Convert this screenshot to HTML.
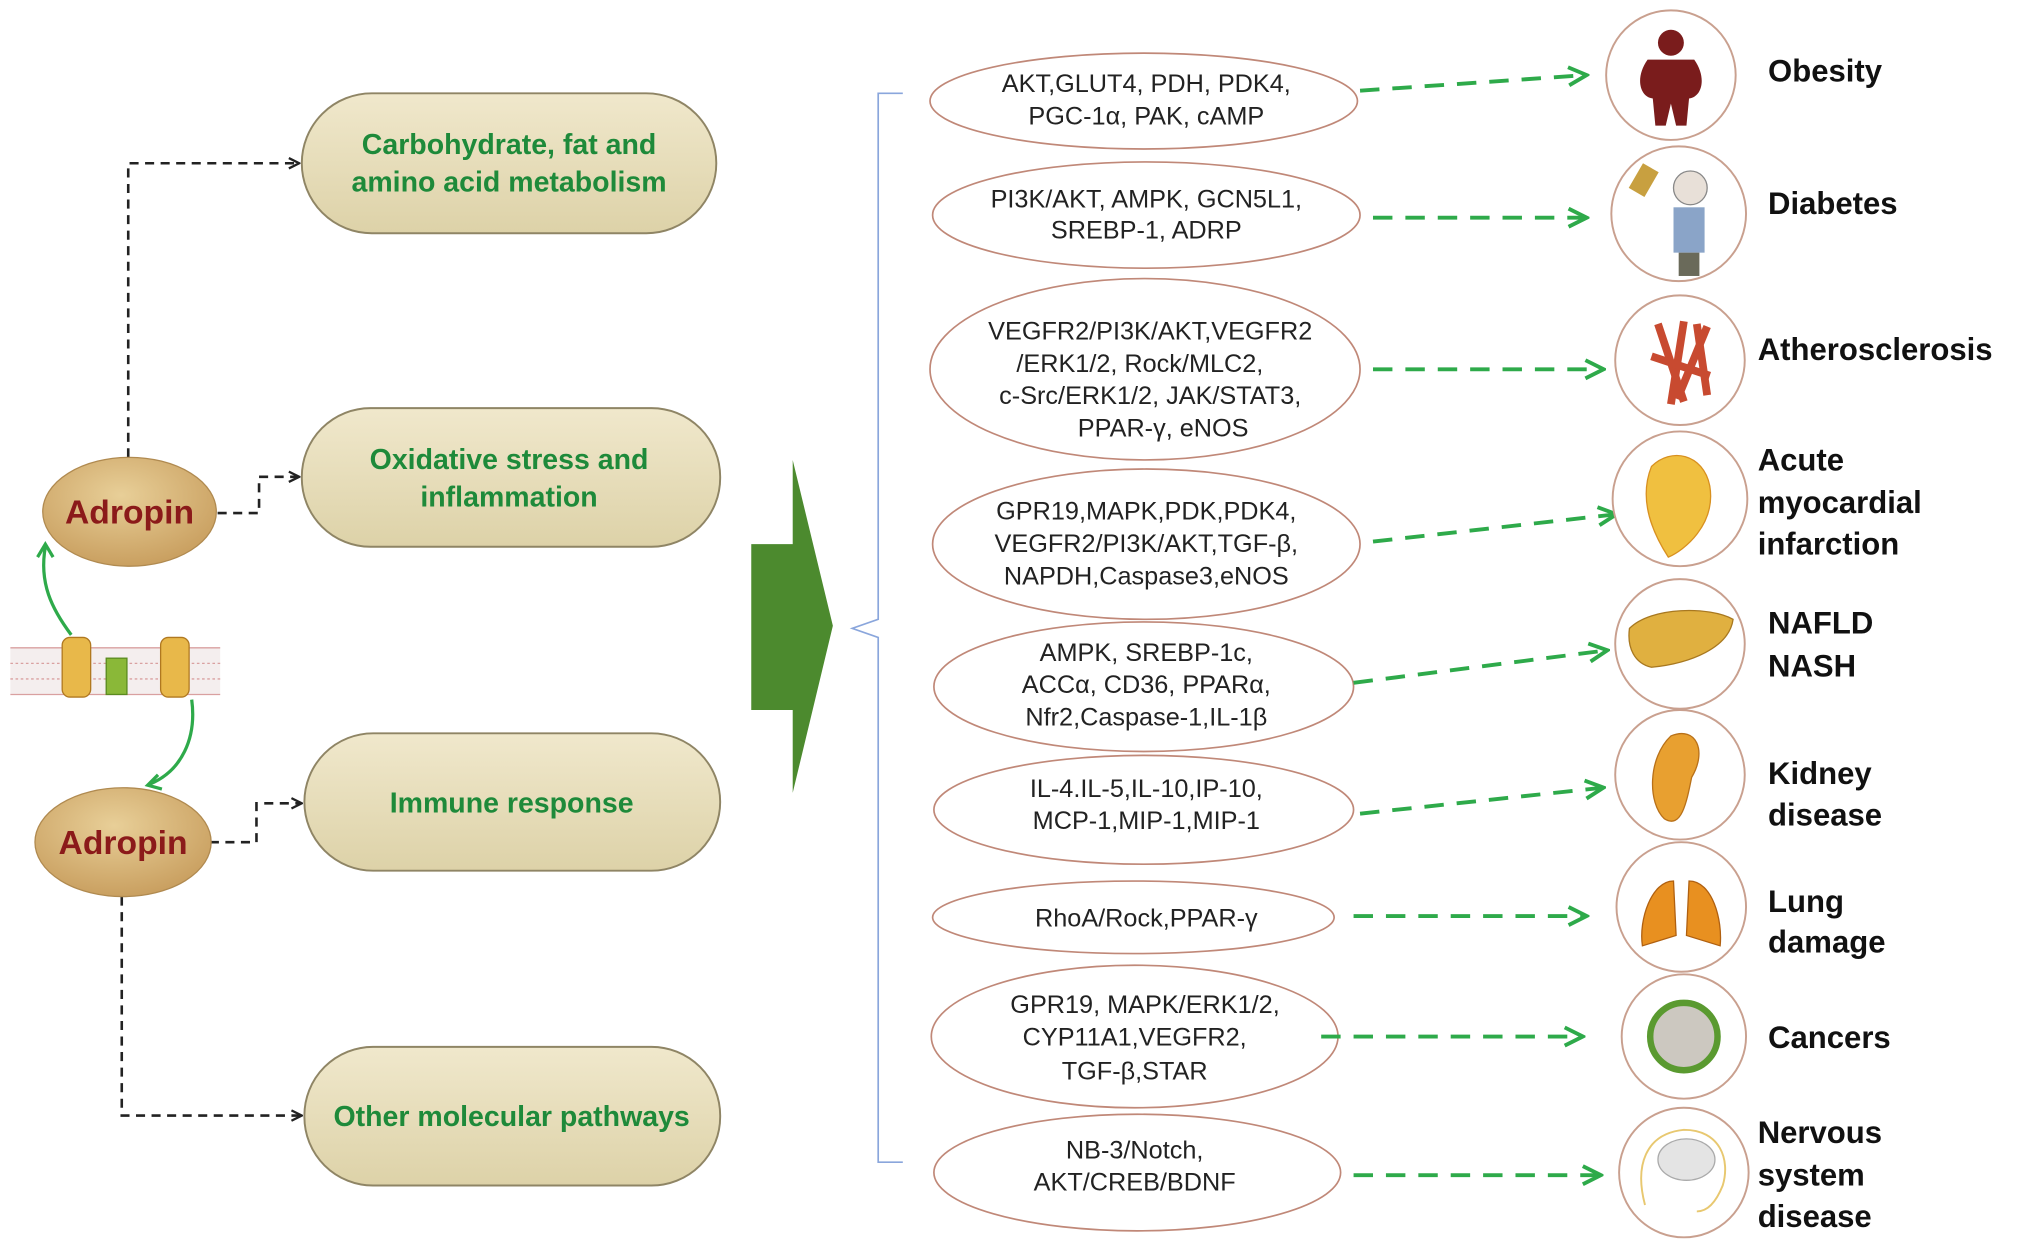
<!DOCTYPE html>
<html><head><meta charset="utf-8"><style>
html,body{margin:0;padding:0;background:#fff;width:2031px;height:1249px;overflow:hidden}
svg{display:block}
.p{font-family:"Liberation Sans",Arial,sans-serif;font-weight:bold;fill:#1e8a3a;font-size:22px;text-anchor:middle}
.a{font-family:"Liberation Sans",Arial,sans-serif;font-weight:bold;fill:#8b1a1a;font-size:26px;text-anchor:middle}
.e{font-family:"Liberation Sans",Arial,sans-serif;fill:#222;font-size:19.5px;text-anchor:middle}
.d{font-family:"Liberation Sans",Arial,sans-serif;font-weight:bold;fill:#111;font-size:24px}
.gd{stroke:#2eaa4a;stroke-width:3;stroke-dasharray:15 10;fill:none}
.kd{stroke:#222;stroke-width:2;stroke-dasharray:7 5;fill:none}
.c{fill:#fff;stroke:#c9a08f;stroke-width:1.5}
.o{fill:#fff;stroke:#c08878;stroke-width:1.3}
</style></head><body>
<svg width="2031" height="1249" viewBox="0 0 1568 964" preserveAspectRatio="none">
<defs>
<linearGradient id="pg" x1="0" y1="0" x2="0" y2="1"><stop offset="0" stop-color="#f0e8cc"/><stop offset="1" stop-color="#ddd2a8"/></linearGradient>
<radialGradient id="ag" cx="0.45" cy="0.35" r="0.7"><stop offset="0" stop-color="#e8cf98"/><stop offset="1" stop-color="#c79c5c"/></radialGradient>
<marker id="km" markerWidth="10" markerHeight="10" refX="8" refY="5" orient="auto" markerUnits="userSpaceOnUse"><path d="M1,1 L9,5 L1,9" fill="none" stroke="#222" stroke-width="1.8"/></marker>
<marker id="gm" markerWidth="18" markerHeight="18" refX="15" refY="9" orient="auto" markerUnits="userSpaceOnUse"><path d="M2,2 L16,9 L2,16" fill="none" stroke="#2eaa4a" stroke-width="3"/></marker>
</defs>

<!-- pills -->
<rect x="233" y="72" width="320" height="108" rx="54" fill="url(#pg)" stroke="#8f8565" stroke-width="1.5"/>
<text class="p" x="393" y="119">Carbohydrate, fat and</text><text class="p" x="393" y="148">amino acid metabolism</text>
<rect x="233" y="315" width="323" height="107" rx="53" fill="url(#pg)" stroke="#8f8565" stroke-width="1.5"/>
<text class="p" x="393" y="362">Oxidative stress and</text><text class="p" x="393" y="391">inflammation</text>
<rect x="235" y="566" width="321" height="106" rx="53" fill="url(#pg)" stroke="#8f8565" stroke-width="1.5"/>
<text class="p" x="395" y="627">Immune response</text>
<rect x="235" y="808" width="321" height="107" rx="53" fill="url(#pg)" stroke="#8f8565" stroke-width="1.5"/>
<text class="p" x="395" y="869">Other molecular pathways</text>

<!-- dashed connectors -->
<path class="kd" d="M99,353 V126 H230" marker-end="url(#km)"/>
<path class="kd" d="M168,396 H200 V368 H230" marker-end="url(#km)"/>
<path class="kd" d="M162,650 H198 V620 H232" marker-end="url(#km)"/>
<path class="kd" d="M94,692 V861 H232" marker-end="url(#km)"/>

<!-- adropin -->
<ellipse cx="100" cy="395" rx="67" ry="42" fill="url(#ag)" stroke="#b08a50"/>
<text class="a" x="100" y="404">Adropin</text>
<ellipse cx="95" cy="650" rx="68" ry="42" fill="url(#ag)" stroke="#b08a50"/>
<text class="a" x="95" y="659">Adropin</text>

<!-- membrane -->
<rect x="8" y="500" width="162" height="36" fill="#f4eeee"/>
<g stroke="#d9a0a0" stroke-width="1">
<line x1="8" y1="500" x2="170" y2="500"/><line x1="8" y1="536" x2="170" y2="536"/>
<line x1="8" y1="512" x2="170" y2="512" stroke-dasharray="2 2"/><line x1="8" y1="524" x2="170" y2="524" stroke-dasharray="2 2"/>
</g>
<rect x="48" y="492" width="22" height="46" rx="6" fill="#e8b84a" stroke="#b07820"/>
<rect x="82" y="508" width="16" height="28" fill="#8ab838" stroke="#5a8a20"/>
<rect x="124" y="492" width="22" height="46" rx="6" fill="#e8b84a" stroke="#b07820"/>
<path d="M55,490 C40,470 30,450 35,422" stroke="#2eaa4a" stroke-width="2.5" fill="none"/>
<path d="M29,430 L35,420 L41,430" stroke="#2eaa4a" stroke-width="2.5" fill="none"/>
<path d="M148,540 C152,570 140,595 116,605" stroke="#2eaa4a" stroke-width="2.5" fill="none"/>
<path d="M122,598 L114,606 L125,609" stroke="#2eaa4a" stroke-width="2.5" fill="none"/>

<!-- big arrow -->
<path d="M580,420 H612 V355 L643,483 L612,612 V548 H580 Z" fill="#4c8a2e"/>

<!-- bracket -->
<path d="M697,72 H678 V478 L658,485 L678,492 V897 H697" fill="none" stroke="#8aa6dc" stroke-width="1.3"/>

<!-- ellipses -->
<ellipse class="o" cx="883" cy="78" rx="165" ry="37"/>
<text class="e" x="885" y="71">AKT,GLUT4, PDH, PDK4,</text><text class="e" x="885" y="96">PGC-1α, PAK, cAMP</text>
<ellipse class="o" cx="885" cy="166" rx="165" ry="41"/>
<text class="e" x="885" y="160">PI3K/AKT, AMPK, GCN5L1,</text><text class="e" x="885" y="184">SREBP-1, ADRP</text>
<ellipse class="o" cx="884" cy="285" rx="166" ry="70"/>
<text class="e" x="888" y="262">VEGFR2/PI3K/AKT,VEGFR2</text><text class="e" x="880" y="287">/ERK1/2, Rock/MLC2,</text><text class="e" x="888" y="312">c-Src/ERK1/2, JAK/STAT3,</text><text class="e" x="898" y="337">PPAR-γ, eNOS</text>
<ellipse class="o" cx="885" cy="420" rx="165" ry="58"/>
<text class="e" x="885" y="401">GPR19,MAPK,PDK,PDK4,</text><text class="e" x="885" y="426">VEGFR2/PI3K/AKT,TGF-β,</text><text class="e" x="885" y="451">NAPDH,Caspase3,eNOS</text>
<ellipse class="o" cx="883" cy="530" rx="162" ry="50"/>
<text class="e" x="885" y="510">AMPK, SREBP-1c,</text><text class="e" x="885" y="535">ACCα, CD36, PPARα,</text><text class="e" x="885" y="560">Nfr2,Caspase-1,IL-1β</text>
<ellipse class="o" cx="883" cy="625" rx="162" ry="42"/>
<text class="e" x="885" y="615">IL-4.IL-5,IL-10,IP-10,</text><text class="e" x="885" y="640">MCP-1,MIP-1,MIP-1</text>
<ellipse class="o" cx="875" cy="708" rx="155" ry="28"/>
<text class="e" x="885" y="715">RhoA/Rock,PPAR-γ</text>
<ellipse class="o" cx="876" cy="800" rx="157" ry="55"/>
<text class="e" x="884" y="782">GPR19, MAPK/ERK1/2,</text><text class="e" x="876" y="807">CYP11A1,VEGFR2,</text><text class="e" x="876" y="833">TGF-β,STAR</text>
<ellipse class="o" cx="878" cy="905" rx="157" ry="45"/>
<text class="e" x="876" y="894">NB-3/Notch,</text><text class="e" x="876" y="919">AKT/CREB/BDNF</text>

<!-- green dashed arrows -->
<line class="gd" x1="1050" y1="70" x2="1224" y2="58" marker-end="url(#gm)"/>
<line class="gd" x1="1060" y1="168" x2="1224" y2="168" marker-end="url(#gm)"/>
<line class="gd" x1="1060" y1="285" x2="1237" y2="285" marker-end="url(#gm)"/>
<line class="gd" x1="1060" y1="418" x2="1247" y2="397" marker-end="url(#gm)"/>
<line class="gd" x1="1045" y1="527" x2="1240" y2="502" marker-end="url(#gm)"/>
<line class="gd" x1="1050" y1="628" x2="1237" y2="608" marker-end="url(#gm)"/>
<line class="gd" x1="1045" y1="707" x2="1224" y2="707" marker-end="url(#gm)"/>
<line class="gd" x1="1020" y1="800" x2="1221" y2="800" marker-end="url(#gm)"/>
<line class="gd" x1="1045" y1="907" x2="1235" y2="907" marker-end="url(#gm)"/>

<!-- icons -->
<circle class="c" cx="1290" cy="58" r="50"/>
<circle cx="1290" cy="33" r="10" fill="#7a1c1c"/>
<path d="M1272,46 H1308 C1318,60 1314,75 1304,76 L1302,97 H1294 L1290,80 L1286,97 H1278 L1276,76 C1266,75 1262,60 1272,46 Z" fill="#7a1c1c"/>
<circle class="c" cx="1296" cy="165" r="52"/>
<circle cx="1305" cy="145" r="13" fill="#e8e0d8" stroke="#888"/>
<rect x="1292" y="160" width="24" height="35" fill="#8aa4c8"/><rect x="1296" y="195" width="16" height="18" fill="#6a6a5a"/>
<rect x="1262" y="128" width="14" height="22" fill="#c8a040" transform="rotate(30 1269 139)"/>
<circle class="c" cx="1297" cy="278" r="50"/>
<g stroke="#c84a30" stroke-width="6"><line x1="1280" y1="250" x2="1300" y2="310"/><line x1="1300" y1="248" x2="1290" y2="312"/><line x1="1318" y1="252" x2="1295" y2="308"/><line x1="1275" y1="275" x2="1320" y2="290"/><line x1="1310" y1="250" x2="1318" y2="305"/></g>
<circle class="c" cx="1297" cy="385" r="52"/>
<path d="M1275,360 C1290,345 1315,350 1320,375 C1325,405 1300,425 1288,430 C1275,410 1265,385 1275,360 Z" fill="#f0c040" stroke="#d89020"/>
<circle class="c" cx="1297" cy="497" r="50"/>
<path d="M1258,485 C1275,468 1320,468 1338,478 C1335,500 1305,512 1275,515 C1262,512 1256,500 1258,485 Z" fill="#e0b040" stroke="#a87820"/>
<circle class="c" cx="1297" cy="598" r="50"/>
<path d="M1290,568 C1310,560 1318,580 1306,600 C1302,620 1298,640 1285,632 C1272,620 1272,585 1290,568 Z" fill="#e8a030" stroke="#b87018"/>
<circle class="c" cx="1298" cy="700" r="50"/>
<path d="M1292,680 C1275,680 1265,710 1268,730 L1294,722 Z M1304,680 C1322,680 1330,710 1328,730 L1302,722 Z" fill="#e89020" stroke="#b06010"/>
<circle class="c" cx="1300" cy="800" r="48"/>
<circle cx="1300" cy="800" r="26" fill="#ccc8c0" stroke="#5a9a30" stroke-width="5"/>
<circle class="c" cx="1300" cy="905" r="50"/>
<path d="M1270,930 C1262,900 1270,875 1300,872 C1328,872 1336,895 1330,915 C1326,925 1320,935 1310,935" fill="none" stroke="#e8c870" stroke-width="1.5"/>
<ellipse cx="1302" cy="895" rx="22" ry="16" fill="#e4e4e4" stroke="#aaa"/>

<!-- disease labels -->
<text class="d" x="1365" y="63">Obesity</text>
<text class="d" x="1365" y="165">Diabetes</text>
<text class="d" x="1357" y="278">Atherosclerosis</text>
<text class="d" x="1357" y="363">Acute</text><text class="d" x="1357" y="396">myocardial</text><text class="d" x="1357" y="428">infarction</text>
<text class="d" x="1365" y="489">NAFLD</text><text class="d" x="1365" y="522">NASH</text>
<text class="d" x="1365" y="605">Kidney</text><text class="d" x="1365" y="637">disease</text>
<text class="d" x="1365" y="704">Lung</text><text class="d" x="1365" y="735">damage</text>
<text class="d" x="1365" y="809">Cancers</text>
<text class="d" x="1357" y="882">Nervous</text><text class="d" x="1357" y="915">system</text><text class="d" x="1357" y="947">disease</text>
</svg>
</body></html>
